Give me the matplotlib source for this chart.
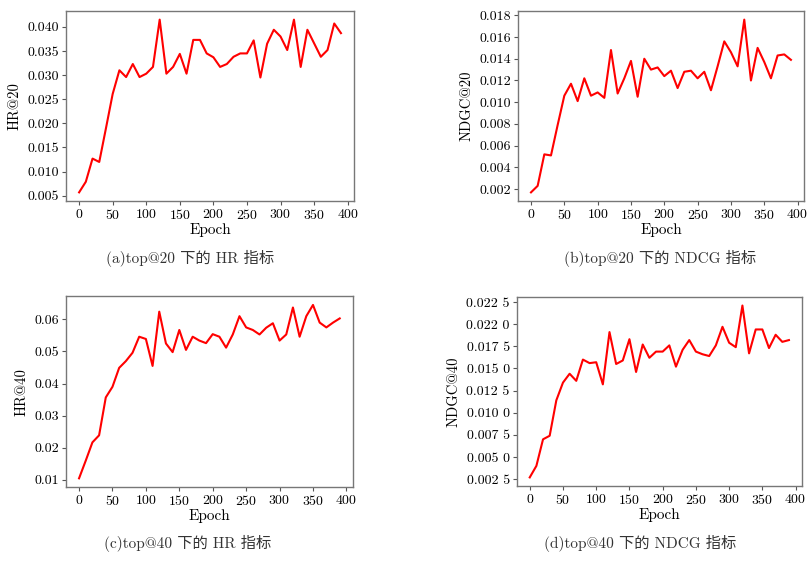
import matplotlib
matplotlib.use("Agg")
import matplotlib.pyplot as plt
from matplotlib.ticker import FormatStrFormatter, MultipleLocator

plt.rcParams['font.family'] = ['cmr10', 'DejaVu Serif']
plt.rcParams['axes.formatter.use_mathtext'] = True

epochs = list(range(0, 400, 10))

hr20 = [0.0057, 0.0079, 0.0127, 0.0120, 0.0190, 0.0261, 0.0310, 0.0296, 0.0323, 0.0296,
        0.0303, 0.0317, 0.0415, 0.0303, 0.0317, 0.0344, 0.0303, 0.0373, 0.0373, 0.0345,
        0.0337, 0.0317, 0.0323, 0.0338, 0.0345, 0.0345, 0.0372, 0.0295, 0.0365, 0.0394,
        0.0380, 0.0352, 0.0415, 0.0317, 0.0394, 0.0366, 0.0338, 0.0352, 0.0407, 0.0387]

ndcg20 = [0.0017, 0.0023, 0.0052, 0.0051, 0.0079, 0.0106, 0.0117, 0.0101, 0.0122, 0.0106,
          0.0109, 0.0104, 0.0148, 0.0108, 0.0122, 0.0138, 0.0105, 0.0140, 0.0130, 0.0132,
          0.0124, 0.0129, 0.0113, 0.0128, 0.0129, 0.0122, 0.0128, 0.0111, 0.0133, 0.0156,
          0.0146, 0.0133, 0.0176, 0.0120, 0.0150, 0.0137, 0.0122, 0.0143, 0.0144, 0.0139]

hr40 = [0.0105, 0.0160, 0.0217, 0.0239, 0.0357, 0.0390, 0.0449, 0.0470, 0.0496, 0.0546,
        0.0539, 0.0455, 0.0624, 0.0525, 0.0498, 0.0567, 0.0505, 0.0546, 0.0534, 0.0526,
        0.0554, 0.0546, 0.0512, 0.0553, 0.0610, 0.0575, 0.0567, 0.0553, 0.0574, 0.0588,
        0.0534, 0.0553, 0.0637, 0.0546, 0.0610, 0.0645, 0.0590, 0.0575, 0.0590, 0.0603]

ndcg40 = [0.0027, 0.0040, 0.0070, 0.0074, 0.0114, 0.0134, 0.0144, 0.0136, 0.0160, 0.0156,
          0.0157, 0.0132, 0.0191, 0.0155, 0.0159, 0.0183, 0.0146, 0.0177, 0.0162, 0.0169,
          0.0169, 0.0176, 0.0152, 0.0171, 0.0182, 0.0169, 0.0166, 0.0164, 0.0176, 0.0197,
          0.0179, 0.0174, 0.0221, 0.0167, 0.0194, 0.0194, 0.0173, 0.0188, 0.0180, 0.0182]

ndcg40_ticks = [0.0025, 0.0050, 0.0075, 0.0100, 0.0125, 0.0150, 0.0175, 0.0200, 0.0225]
ndcg40_ticklabels = ["0.002 5", "0.005 0", "0.007 5", "0.010 0", "0.012 5",
                     "0.015 0", "0.017 5", "0.022 0", "0.022 5"]

fig = plt.figure(figsize=(8.1, 5.61), dpi=100)

panels = [
    ([0.0815, 0.6417, 0.3556, 0.3387], hr20, "HR@20", "%.3f", 0.005, (0.235, 0.524), "(a)top@20 下的 HR 指标"),
    ([0.6395, 0.6417, 0.3530, 0.3387], ndcg20, "NDGC@20", "%.3f", 0.002, (0.815, 0.524), "(b)top@20 下的 NDCG 指标"),
    ([0.0815, 0.1319, 0.3540, 0.3400], hr40, "HR@40", "%.2f", 0.01, (0.232, 0.016), "(c)top@40 下的 HR 指标"),
    ([0.6380, 0.1337, 0.3520, 0.3370], ndcg40, "NDGC@40", None, None, (0.790, 0.016), "(d)top@40 下的 NDCG 指标"),
]

for rect, vals, ylabel, fmt, step, cap_pos, caption in panels:
    ax = fig.add_axes(rect)
    ax.plot(epochs, vals, color="#ff0000", linewidth=1.5)
    ax.set_xticks(range(0, 401, 50))
    ax.set_xlabel("Epoch", fontsize=11, labelpad=1)
    ax.set_ylabel(ylabel, fontsize=10.5, labelpad=4)
    if fmt:
        ax.yaxis.set_major_locator(MultipleLocator(step))
        ax.yaxis.set_major_formatter(FormatStrFormatter(fmt))
    else:
        ax.set_yticks(ndcg40_ticks)
        ax.set_yticklabels(ndcg40_ticklabels)
    ax.tick_params(labelsize=10, length=3, width=0.8, color="#555555", pad=2)
    for sp in ax.spines.values():
        sp.set_color("#777777")
        sp.set_linewidth(1.0)
    fig.text(cap_pos[0], cap_pos[1], caption, ha="center", va="bottom", fontsize=11,
             family=["cmr10", "Noto Sans CJK SC"], color="#333333")

fig.savefig("out.png", dpi=100)
